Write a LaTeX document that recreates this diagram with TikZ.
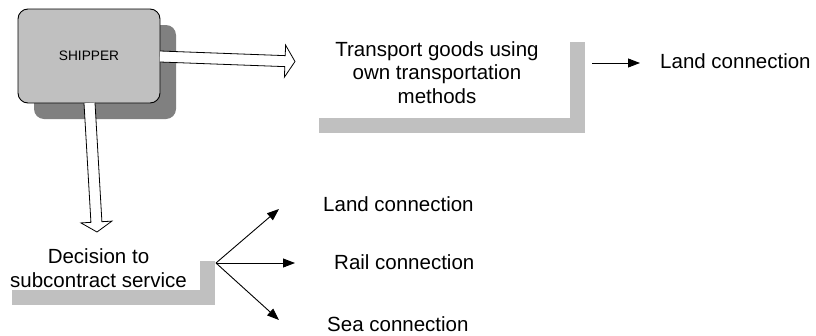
\documentclass[tikz,border=0pt]{standalone}
\usepackage{fontspec}
\setmainfont{Liberation Sans}
\usetikzlibrary{calc,shadows,arrows.meta}
\definecolor{boxgray}{HTML}{C0C0C0}
\definecolor{darkshadow}{HTML}{808080}
% hollow block arrow: start, tip, shaft half width, head half width, head length
\newcommand\hollowarr[5]{%
  \coordinate (hb) at ($(#2)!#5!(#1)$);
  \draw[fill=white, line width=0.8pt, line join=miter]
    ($(#1)!#3!90:(#2)$) -- ($(hb)!#3!90:(#2)$) -- ($(hb)!#4!90:(#2)$) -- (#2)
    -- ($(hb)!#4!-90:(#2)$) -- ($(hb)!#3!-90:(#2)$) -- ($(#1)!#3!-90:(#2)$);
}
\begin{document}
\begin{tikzpicture}[x=1pt,y=-1pt,
  txt/.style={font=\fontsize{20.5}{23.5}\selectfont, inner sep=0pt},
  lbl/.style={txt, anchor=base west},
  fan/.style={line width=0.9pt, -{Triangle[length=12pt,width=9pt]}},
  whitebox/.style={txt, align=center, fill=white,
    drop shadow={shadow xshift=15pt, shadow yshift=-15pt, fill=boxgray, opacity=1}}]
\useasboundingbox (0,0) rectangle (816,335);

% shipper
\node[draw, line width=0.9pt, fill=boxgray, rounded corners=10pt,
  minimum width=142pt, minimum height=94pt, inner sep=0pt,
  font=\fontsize{13.7}{16}\selectfont,
  drop shadow={shadow xshift=16pt, shadow yshift=-16pt, fill=darkshadow, opacity=1}]
  (ship) at (89,56) {SHIPPER};

% text boxes
\node[whitebox, minimum width=266pt, minimum height=91pt] (tr) at (437,72.5)
  {Transport goods using\\own transportation\\methods};
\node[whitebox, minimum width=203pt, minimum height=44pt] (dec) at (98.5,268)
  {Decision to\\subcontract service};

% hollow arrows from shipper
\coordinate (a1) at (160,56.5);
\coordinate (a1t) at (295,61.5);
\coordinate (a2) at (89.5,103);
\coordinate (a2t) at (97,232);
\hollowarr{a1}{a1t}{5.5pt}{16pt}{10pt}
\hollowarr{a2}{a2t}{5.5pt}{15.5pt}{10pt}

% top right
\coordinate (r0) at (592,63);
\coordinate (r1) at (640,63);
\draw[fan] (r0) -- (r1);
\node[lbl] (land1) at (660,68.5) {Land connection};

% fan
\coordinate (f0) at (216,263);
\coordinate (f1) at (279,209);
\coordinate (f2) at (295,263);
\coordinate (f3) at (279,320);
\draw[fan] (f0) -- (f1);
\draw[fan] (f0) -- (f2);
\draw[fan] (f0) -- (f3);
\node[lbl] (land2) at (323,211) {Land connection};
\node[lbl] (rail) at (334,269) {Rail connection};
\node[lbl] (sea) at (327,331.5) {Sea connection};
\end{tikzpicture}
\end{document}
